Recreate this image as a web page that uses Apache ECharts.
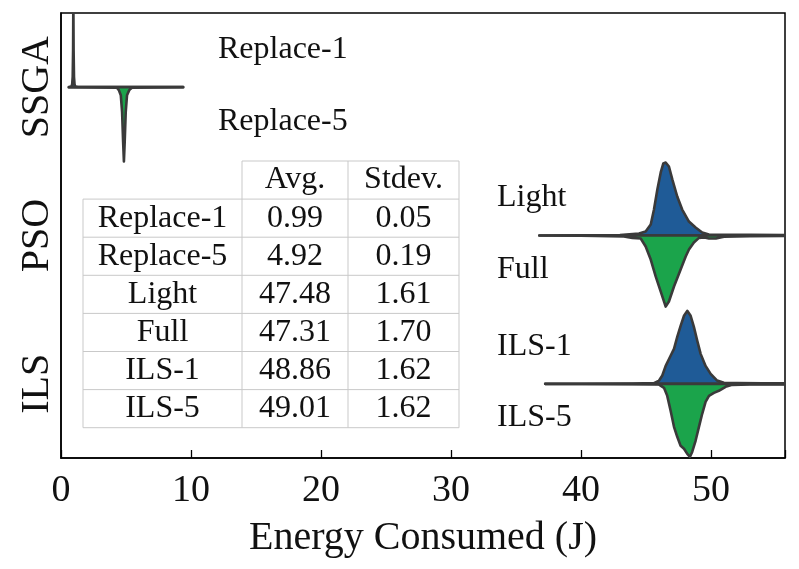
<!DOCTYPE html>
<html>
<head>
<meta charset="utf-8">
<script src="https://cdn.jsdelivr.net/npm/echarts@6/dist/echarts.min.js"></script>
<style>
html,body{margin:0;padding:0;background:#fff;}
#chart{width:799px;height:569px;}
</style>
</head>
<body>
<div id="chart"></div>
<script>
// ---------- data ----------
const groups = ['SSGA', 'PSO', 'ILS'];
const halfLabels = ['Replace-1', 'Replace-5', 'Light', 'Full', 'ILS-1', 'ILS-5'];
const xTicks = [0, 10, 20, 30, 40, 50];

// half-violin outlines: energy (J) and half-width (category units)
const r1X = [0.6, 0.8, 0.86, 0.9, 0.93, 0.95, 0.97, 1.0, 1.04, 1.1, 1.3, 9.4];
const r1W = [0, 0.004, 0.02, 0.07, 0.25, 0.6, 0.25, 0.07, 0.02, 0.004, 0.001, 0];
const r5X = [0.6, 4.3, 4.45, 4.6, 4.7, 4.78, 4.84, 4.9, 4.98, 5.08, 5.25, 5.45, 9.4];
const r5W = [0, 0.004, 0.02, 0.054, 0.169, 0.371, 0.5, 0.371, 0.169, 0.054, 0.02, 0.004, 0];
const lightX = [36.8, 40, 43, 44.47, 44.98, 45.37, 45.62, 45.88, 46.14, 46.34, 46.52, 46.77, 47.03, 47.41, 47.79, 48.31, 48.82, 49.33, 49.85, 51, 53, 56.5];
const lightW = [0, 0.002, 0.003, 0.013, 0.027, 0.074, 0.175, 0.31, 0.425, 0.486, 0.492, 0.465, 0.378, 0.263, 0.175, 0.094, 0.054, 0.02, 0.007, 0.005, 0.004, 0.003];
const fullX = [36.8, 40, 43.3, 43.96, 44.6, 44.98, 45.37, 45.75, 46.14, 46.52, 46.77, 47.16, 47.67, 48.06, 48.31, 48.69, 49.08, 49.5, 49.85, 50.38, 51, 53, 56.5];
const fullW = [0, 0.002, 0.006, 0.016, 0.02, 0.074, 0.162, 0.276, 0.378, 0.479, 0.445, 0.344, 0.229, 0.142, 0.094, 0.047, 0.016, 0.014, 0.02, 0.02, 0.008, 0.004, 0.003];
const ils1X = [37.25, 40, 44, 45.62, 46.01, 46.26, 46.52, 46.9, 47.16, 47.41, 47.67, 47.93, 48.18, 48.44, 48.69, 48.95, 49.21, 49.59, 49.98, 50.48, 51.0, 52, 54, 56.5];
const ils1W = [0, 0.001, 0.002, 0.005, 0.022, 0.056, 0.121, 0.189, 0.236, 0.317, 0.391, 0.459, 0.492, 0.459, 0.384, 0.29, 0.202, 0.121, 0.067, 0.022, 0.007, 0.005, 0.004, 0.003];
const ils5X = [37.25, 40, 44, 46.01, 46.39, 46.64, 46.9, 47.16, 47.41, 47.67, 47.93, 48.18, 48.39, 48.56, 48.82, 49.08, 49.33, 49.59, 49.85, 50.23, 50.61, 51.13, 51.64, 53, 56.5];
const ils5W = [0, 0.001, 0.002, 0.005, 0.027, 0.081, 0.182, 0.29, 0.357, 0.418, 0.438, 0.472, 0.492, 0.459, 0.384, 0.29, 0.202, 0.121, 0.081, 0.061, 0.047, 0.02, 0.007, 0.005, 0.004];

// summary table
const tableHeader = ['Avg.', 'Stdev.'];
const tableRows = ['Replace-1', 'Replace-5', 'Light', 'Full', 'ILS-1', 'ILS-5'];
const tableAvg = ['0.99', '4.92', '47.48', '47.31', '48.86', '49.01'];
const tableStd = ['0.05', '0.19', '1.61', '1.70', '1.62', '1.62'];

// ---------- build ----------
const halves = [
  {g: 0, side: 0, x: r1X, w: r1W},
  {g: 0, side: 1, x: r5X, w: r5W},
  {g: 1, side: 0, x: lightX, w: lightW},
  {g: 1, side: 1, x: fullX, w: fullW},
  {g: 2, side: 0, x: ils1X, w: ils1W},
  {g: 2, side: 1, x: ils5X, w: ils5W}
];
const BLUE = '#1f5b97', GREEN = '#1ba44b', EDGE = '#3a3a3a';
const FONT = '"Liberation Serif", "DejaVu Serif", serif';

const chart = echarts.init(document.getElementById('chart'), null, {renderer: 'canvas'});

// table graphics
const T = {left: 83, c1: 242, c2: 348, right: 459, top: 161, rowH: 38.1};
const tbl = [];
const lineStyle = {stroke: '#c9c9c9', lineWidth: 1};
const nRows = tableRows.length;
const bodyTop = T.top + T.rowH;
const bottom = bodyTop + nRows * T.rowH;
tbl.push({type: 'line', shape: {x1: T.c1, y1: T.top, x2: T.right, y2: T.top}, style: lineStyle});
for (let i = 0; i <= nRows; i++) {
  const y = bodyTop + i * T.rowH;
  tbl.push({type: 'line', shape: {x1: T.left, y1: y, x2: T.right, y2: y}, style: lineStyle});
}
tbl.push({type: 'line', shape: {x1: T.left, y1: bodyTop, x2: T.left, y2: bottom}, style: lineStyle});
[T.c1, T.c2, T.right].forEach(x => tbl.push({type: 'line', shape: {x1: x, y1: T.top, x2: x, y2: bottom}, style: lineStyle}));
const colC = [(T.left + T.c1) / 2, (T.c1 + T.c2) / 2, (T.c2 + T.right) / 2];
const txt = (s, x, y) => ({type: 'text', x: x, y: y, style: {text: s, font: '32px ' + FONT, fill: '#111', align: 'center', verticalAlign: 'middle'}});
tbl.push(txt(tableHeader[0], colC[1], T.top + T.rowH / 2));
tbl.push(txt(tableHeader[1], colC[2], T.top + T.rowH / 2));
for (let i = 0; i < nRows; i++) {
  const y = bodyTop + (i + 0.5) * T.rowH;
  tbl.push(txt(tableRows[i], colC[0], y));
  tbl.push(txt(tableAvg[i], colC[1], y));
  tbl.push(txt(tableStd[i], colC[2], y));
}
const labelPos = [[218, 50], [218, 122], [497, 198], [497, 270], [497, 347], [497, 418]];
halfLabels.forEach((s, i) => {
  tbl.push({type: 'text', x: labelPos[i][0], y: labelPos[i][1], style: {text: s, font: '32px ' + FONT, fill: '#111', align: 'left', verticalAlign: 'middle'}});
});

const option = {
  animation: false,
  grid: {left: 61, right: 14, top: 13, bottom: 111, show: true, borderColor: '#000', borderWidth: 1.5, backgroundColor: 'transparent'},
  xAxis: {
    type: 'value', min: 0, max: 55.7, interval: 10,
    name: 'Energy Consumed (J)', nameLocation: 'middle', nameGap: 60,
    nameTextStyle: {fontFamily: FONT, fontSize: 40, color: '#111'},
    axisLine: {show: true, onZero: false, lineStyle: {color: '#000', width: 1.5}},
    axisTick: {show: true, inside: true, length: 8, lineStyle: {color: '#000', width: 1.3}},
    axisLabel: {fontFamily: FONT, fontSize: 38, color: '#111', margin: 14,
      formatter: v => (xTicks.indexOf(v) >= 0 ? String(v) : '')},
    splitLine: {show: false}
  },
  yAxis: [
    {type: 'category', data: groups, inverse: true, boundaryGap: true,
      axisLine: {show: true, onZero: false, lineStyle: {color: '#000', width: 1.5}},
      axisTick: {show: false},
      axisLabel: {fontFamily: FONT, fontSize: 40, color: '#111', rotate: 90, margin: 24, verticalAlign: 'middle'},
      splitLine: {show: false}},
    {type: 'value', min: -0.5, max: 2.5, inverse: true, show: false}
  ],
  series: [{
    type: 'custom',
    xAxisIndex: 0, yAxisIndex: 1,
    clip: true,
    data: halves.map((h, i) => [h.g, h.side, i]),
    renderItem: function (params, api) {
      const h = halves[api.value(2)];
      const sign = h.side === 0 ? -1 : 1;
      const pts = [];
      for (let i = 0; i < h.x.length; i++) pts.push(api.coord([h.x[i], h.g + sign * h.w[i]]));
      pts.push(api.coord([h.x[h.x.length - 1], h.g]));
      pts.push(api.coord([h.x[0], h.g]));
      return {type: 'polygon', shape: {points: pts},
        style: {fill: h.side === 0 ? BLUE : GREEN, stroke: EDGE, lineWidth: 2.6, lineJoin: 'round'}};
    }
  }],
  graphic: {elements: tbl}
};
chart.setOption(option);
</script>
</body>
</html>
